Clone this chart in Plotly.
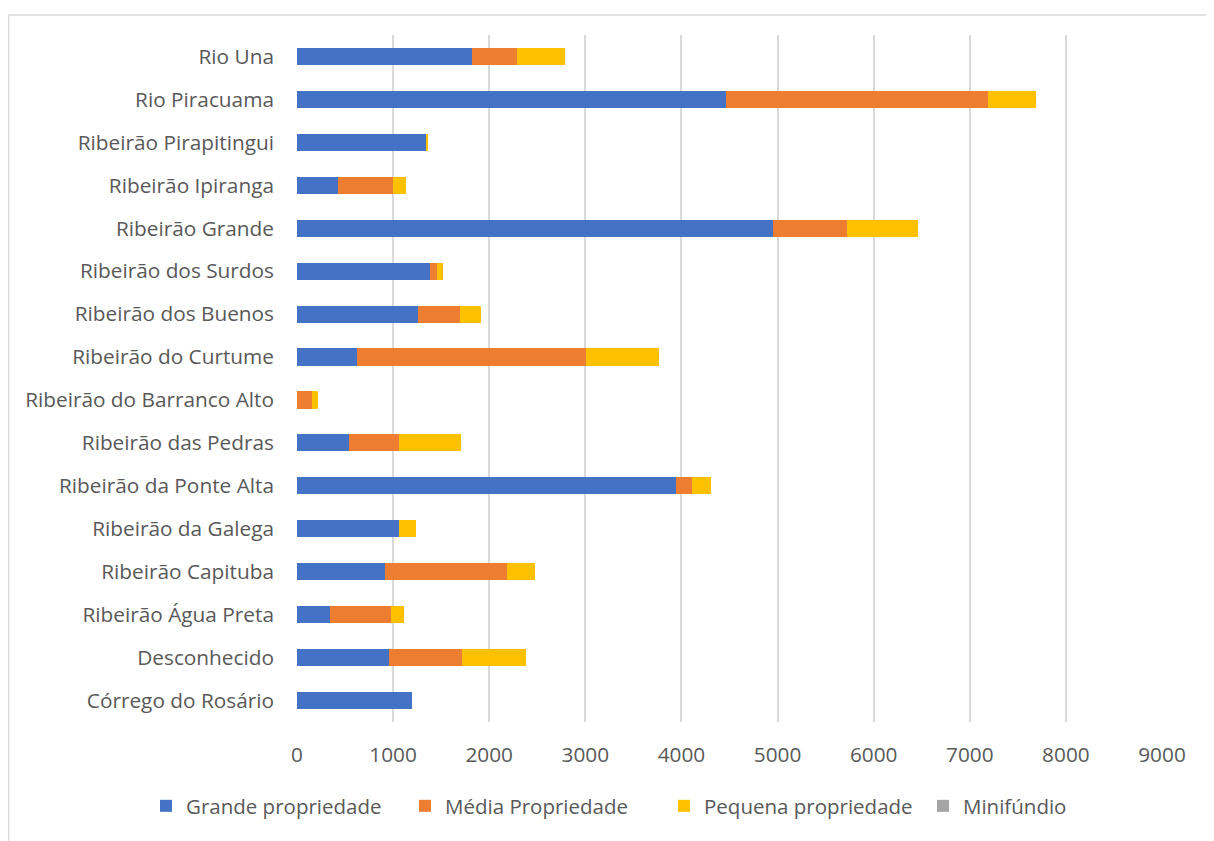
import plotly.graph_objects as go

categories = [
    "Córrego do Rosário",
    "Desconhecido",
    "Ribeirão Água Preta",
    "Ribeirão Capituba",
    "Ribeirão da Galega",
    "Ribeirão da Ponte Alta",
    "Ribeirão das Pedras",
    "Ribeirão do Barranco Alto",
    "Ribeirão do Curtume",
    "Ribeirão dos Buenos",
    "Ribeirão dos Surdos",
    "Ribeirão Grande",
    "Ribeirão Ipiranga",
    "Ribeirão Pirapitingui",
    "Rio Piracuama",
    "Rio Una",
]

grande = [1197, 954, 346, 920, 1065, 3940, 536, 5, 622, 1259, 1387, 4950, 426, 1345, 4460, 1823]
media = [0, 765, 636, 1266, 0, 170, 529, 150, 2380, 439, 73, 775, 577, 0, 2730, 470]
pequena = [0, 661, 132, 294, 173, 197, 640, 66, 764, 221, 59, 735, 132, 10, 500, 491]
minifundio = [0, 0, 0, 0, 0, 0, 0, 0, 0, 0, 0, 0, 0, 0, 0, 0]

series_names = ["Grande propriedade", "Média Propriedade", "Pequena propriedade", "Minifúndio"]
series_values = [grande, media, pequena, minifundio]
series_colors = ["#4472C4", "#ED7D31", "#FFC000", "#A5A5A5"]

x_ticks = [0, 1000, 2000, 3000, 4000, 5000, 6000, 7000, 8000, 9000]

fig = go.Figure()
for name, vals, col in zip(series_names, series_values, series_colors):
    fig.add_trace(go.Bar(
        y=categories, x=vals, name=name, orientation="h",
        marker=dict(color=col, line=dict(width=0)),
    ))

# page body has an 8px margin; coordinates below are figure coordinates
W, H = 1214, 841
L, R, T, B = 289, 1154, 27, 714
pw, ph = R - L, B - T

fig.update_layout(
    width=W, height=H,
    barmode="stack", bargap=0.6,
    margin=dict(l=L, r=W - R, t=T, b=H - B, pad=0),
    paper_bgcolor="white", plot_bgcolor="white",
    font=dict(family="Open Sans, sans-serif", size=20.8, color="#595959"),
    showlegend=True,
    legend=dict(
        orientation="h", x=(138 - L) / pw, xanchor="left",
        y=(B - 798) / ph, yanchor="middle",
        font=dict(size=20.5, color="#595959"),
        traceorder="normal", itemwidth=30,
        entrywidth=214, entrywidthmode="pixels",
    ),
    xaxis=dict(
        range=[0, 9000], tickvals=x_ticks, showgrid=True,
        gridcolor="#D9D9D9", gridwidth=1.5, zeroline=False,
        showline=False, ticks="", ticklabelstandoff=18,
        fixedrange=True,
    ),
    yaxis=dict(
        categoryorder="array", categoryarray=categories,
        showgrid=False, zeroline=False, showline=False, ticks="",
        ticklabelstandoff=22, fixedrange=True,
    ),
    shapes=[dict(
        type="rect", xref="paper", yref="paper",
        x0=(0.5 - L) / pw, x1=1.2, y0=-0.3, y1=1 + (T - 7) / ph,
        line=dict(color="#D9D9D9", width=1.5), fillcolor="rgba(0,0,0,0)",
        layer="below",
    )],
)

fig.write_html("out.html")
